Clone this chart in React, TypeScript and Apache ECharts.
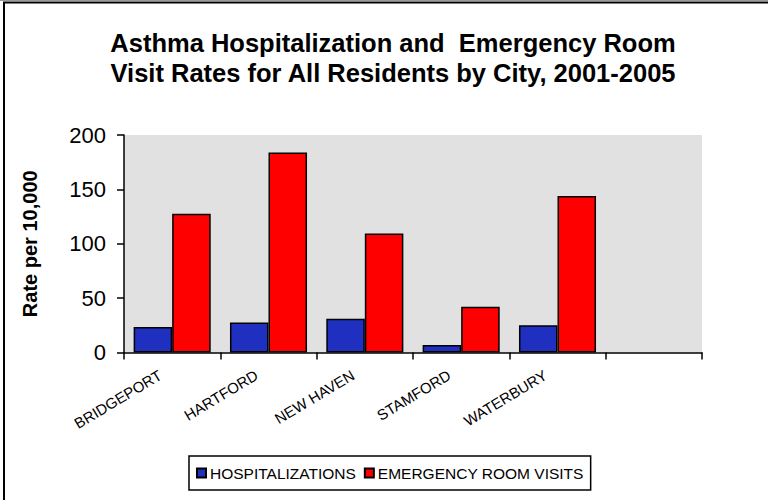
import React, { useEffect, useRef } from "react";
import * as echarts from "echarts";

const titleText = "Asthma Hospitalization and  Emergency Room\nVisit Rates for All Residents by City, 2001-2005";
const yAxisName = "Rate per 10,000";
const cities = ["BRIDGEPORT", "HARTFORD", "NEW HAVEN", "STAMFORD", "WATERBURY", ""];
const hospitalizations = [23.5, 27.5, 31, 7, 25, null];
const erVisits = [127.5, 184, 109.5, 42, 144, null];
const seriesNames = ["HOSPITALIZATIONS", "EMERGENCY ROOM VISITS"];

const FONT = "'Liberation Sans', Arial, Helvetica, sans-serif";

export default function App() {
  const ref = useRef<HTMLDivElement>(null);
  useEffect(() => {
    document.body.style.margin = "0";
    if (!ref.current) return;
    const chart = echarts.init(ref.current, null, { renderer: "svg" });
    chart.setOption({
      animation: false,
      backgroundColor: "#ffffff",
      textStyle: { fontFamily: FONT },
      title: {
        text: titleText,
        left: 388,
        textAlign: "center",
        top: 23,
        textStyle: {
          fontFamily: FONT,
          fontSize: 25.5,
          fontWeight: "bold",
          color: "#000",
          lineHeight: 30,
        },
      },
      graphic: [
        { type: "line", shape: { x1: 0, y1: 0.5, x2: 768, y2: 0.5 }, style: { stroke: "#999", lineWidth: 1 } },
        { type: "line", shape: { x1: 3, y1: 2.5, x2: 768, y2: 2.5 }, style: { stroke: "#000", lineWidth: 2 } },
        { type: "line", shape: { x1: 4, y1: 2, x2: 4, y2: 500 }, style: { stroke: "#000", lineWidth: 2 } },
      ],
      legend: {
        data: seriesNames,
        left: 189,
        top: 456,
        orient: "horizontal",
        padding: [9, 7],
        itemWidth: 9,
        itemHeight: 9,
        itemGap: 8,
        borderColor: "#000",
        borderWidth: 1.5,
        backgroundColor: "#fff",
        icon: "rect",
        textStyle: { fontFamily: FONT, fontSize: 15.5, color: "#000", padding: [0, 0, 0, -1] },
      },
      grid: {
        left: 124,
        right: 66,
        top: 135,
        bottom: 147.5,
        show: true,
        backgroundColor: "#e1e1e1",
        borderWidth: 0,
      },
      xAxis: {
        type: "category",
        data: cities,
        axisLine: { show: true, lineStyle: { color: "#000", width: 1.5 } },
        axisTick: { show: true, length: 7, lineStyle: { color: "#000", width: 1.5 } },
        axisLabel: {
          interval: 0,
          rotate: 31,
          margin: 14,
          padding: [0, 14, 0, 0],
          fontFamily: FONT,
          fontSize: 15,
          color: "#000",
        },
        splitLine: { show: false },
      },
      yAxis: {
        type: "value",
        min: 0,
        max: 200,
        interval: 50,
        name: yAxisName,
        nameLocation: "middle",
        nameRotate: 90,
        nameGap: 84,
        nameTextStyle: { fontFamily: FONT, fontSize: 20, fontWeight: "bold", color: "#000" },
        axisLine: { show: true, lineStyle: { color: "#000", width: 1.5 } },
        axisTick: { show: true, length: 7, lineStyle: { color: "#000", width: 1.5 } },
        axisLabel: { margin: 18, fontFamily: FONT, fontSize: 22, color: "#000" },
        splitLine: { show: false },
      },
      series: [
        {
          name: seriesNames[0],
          type: "bar",
          data: hospitalizations,
          barGap: "0%",
          barCategoryGap: "20%",
          itemStyle: { color: "#1f2fbf", borderColor: "#000", borderWidth: 1.5 },
        },
        {
          name: seriesNames[1],
          type: "bar",
          data: erVisits,
          barGap: "0%",
          barCategoryGap: "20%",
          itemStyle: { color: "#ff0000", borderColor: "#000", borderWidth: 1.5 },
        },
      ],
    });
    return () => chart.dispose();
  }, []);
  return <div ref={ref} style={{ width: 768, height: 500 }} />;
}
